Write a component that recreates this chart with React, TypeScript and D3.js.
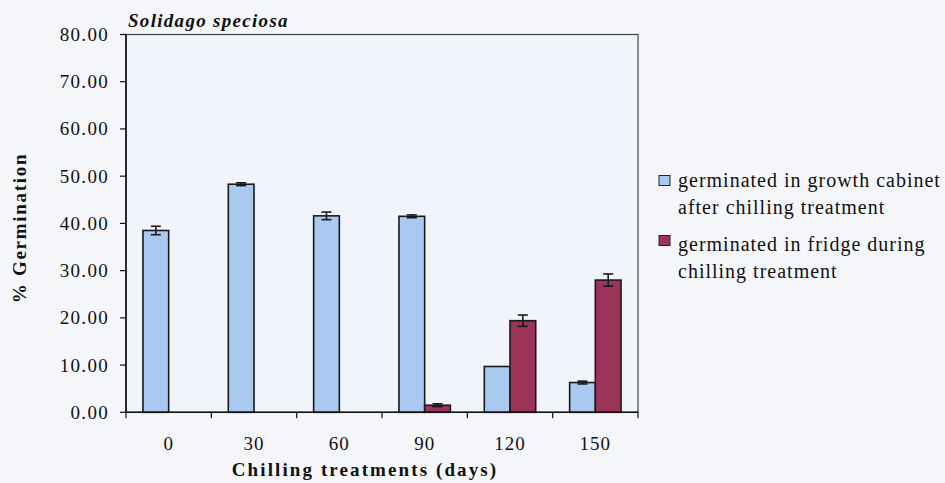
import React from "react";
import * as d3 from "d3";

const categories = ["0", "30", "60", "90", "120", "150"];
const cabinetValues = [38.5, 48.3, 41.6, 41.5, 9.7, 6.3];
const cabinetErrors = [0.9, 0.3, 0.8, 0.3, 0, 0.3];
const fridgeValues = [0, 0, 0, 1.5, 19.4, 28.0];
const fridgeErrors = [0, 0, 0, 0.3, 1.2, 1.3];
const yTicks = [0, 10, 20, 30, 40, 50, 60, 70, 80];
const seriesNames = [
  ["germinated in growth cabinet", "after chilling treatment"],
  ["germinated in fridge during", "chilling treatment"],
];
const colors = ["#a9c9f0", "#9c3358"];

export default function App() {
  const W = 945, H = 483;
  const left = 126, right = 638, top = 34.5, bottom = 412.3;
  const x = d3.scaleBand<string>().domain(categories).range([left, right]);
  const y = d3.scaleLinear().domain([0, 80]).range([bottom, top]);
  const bw = 25.7;
  const off = (x.bandwidth() - 2 * bw) / 2;
  const serif = "Liberation Serif";

  const bars: React.ReactNode[] = [];
  [cabinetValues, fridgeValues].forEach((vals, si) => {
    const errs = si === 0 ? cabinetErrors : fridgeErrors;
    vals.forEach((v, i) => {
      const bx = (x(categories[i]) as number) + off + si * bw;
      const yt = y(v);
      bars.push(
        <rect key={`b${si}-${i}`} x={bx} y={yt} width={bw} height={bottom - yt}
          fill={colors[si]} stroke="#1a1a1a" strokeWidth={1.6} />
      );
      const e = errs[i];
      if (e > 0) {
        const cx = bx + bw / 2;
        bars.push(
          <g key={`e${si}-${i}`} stroke="#1a1a1a" strokeWidth={1.6}>
            <line x1={cx} x2={cx} y1={y(v + e)} y2={y(v - e)} />
            <line x1={cx - 5} x2={cx + 5} y1={y(v + e)} y2={y(v + e)} />
            <line x1={cx - 5} x2={cx + 5} y1={y(v - e)} y2={y(v - e)} />
          </g>
        );
      }
    });
  });

  return (
    <svg width={W} height={H} style={{ position: "absolute", left: 0, top: 0, background: "#f5f6f9" }}>
      <rect x={0} y={0} width={W} height={H} fill="#f5f6f9" />
      <rect x={left} y={top} width={right - left} height={bottom - top} fill="#f1f4fa" stroke="#444" strokeWidth={1.2} />
      <text x={128} y={27} fontFamily={serif} fontSize={19} fontWeight="bold" fontStyle="italic" letterSpacing={1.3} fill="#111">Solidago speciosa</text>
      {bars}
      <line x1={left} x2={left} y1={top} y2={bottom} stroke="#111" strokeWidth={1.6} />
      {yTicks.map((t) => (
        <g key={`yt${t}`}>
          <line x1={left - 6} x2={left} y1={y(t)} y2={y(t)} stroke="#111" strokeWidth={1.2} />
          <text x={109} y={y(t)} dy="0.34em" textAnchor="end" fontFamily={serif} fontSize={19} letterSpacing={1.3} fill="#111">{t.toFixed(2)}</text>
        </g>
      ))}
      <line x1={left} x2={right} y1={bottom} y2={bottom} stroke="#111" strokeWidth={1.6} />
      {categories.map((c, i) => (
        <g key={`xt${c}`}>
          <line x1={left + i * x.step()} x2={left + i * x.step()} y1={bottom} y2={bottom + 6} stroke="#111" strokeWidth={1.2} />
          <text x={(x(c) as number) + x.bandwidth() / 2} y={450} textAnchor="middle" fontFamily={serif} fontSize={19} letterSpacing={1} fill="#111">{c}</text>
        </g>
      ))}
      <line x1={right} x2={right} y1={bottom} y2={bottom + 6} stroke="#111" strokeWidth={1.2} />
      <text x={365} y={476} textAnchor="middle" fontFamily={serif} fontSize={19} fontWeight="bold" letterSpacing={2.1} fill="#111">Chilling treatments (days)</text>
      <text transform="translate(26,228) rotate(-90)" textAnchor="middle" fontFamily={serif} fontSize={19} fontWeight="bold" letterSpacing={1.7} fill="#111">% Germination</text>
      {seriesNames.map((lines, si) => (
        <g key={`lg${si}`}>
          <rect x={659} y={si === 0 ? 175.5 : 235.5} width={11} height={10} fill={colors[si]} stroke="#222" strokeWidth={1} />
          {lines.map((l, li) => (
            <text key={li} x={678} y={(si === 0 ? 187 : 251) + li * 27} fontFamily={serif} fontSize={20} letterSpacing={1} fill="#111">{l}</text>
          ))}
        </g>
      ))}
    </svg>
  );
}
